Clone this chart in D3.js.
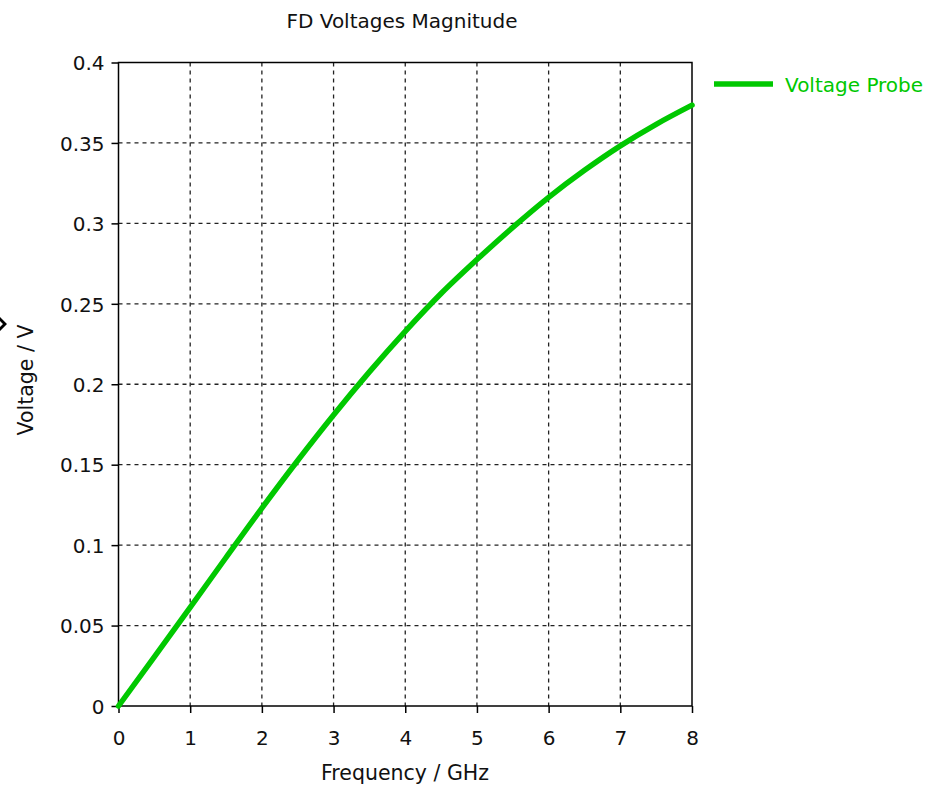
<!DOCTYPE html>
<html><head><meta charset="utf-8">
<script src="https://cdn.jsdelivr.net/npm/d3@7"></script>
<style>body{margin:0;background:#fff}svg{display:block}text{font-family:"DejaVu Sans",Verdana,sans-serif}</style>
</head><body><svg id="c" width="930" height="786"></svg>
<script>
const freq = [0, 0.5, 1, 1.5, 2, 2.5, 3, 3.5, 4, 4.5, 5, 5.5, 6, 6.5, 7, 7.5, 8];
const voltage = [0, 0.0305, 0.0613, 0.0923, 0.1230, 0.1526, 0.1809, 0.2077, 0.2329, 0.2564, 0.2775, 0.2975, 0.3162, 0.3330, 0.3482, 0.3616, 0.3735];
const xTicks = [0,1,2,3,4,5,6,7,8];
const yTicks = [0,0.05,0.1,0.15,0.2,0.25,0.3,0.35,0.4];
const yTickLabels = ["0","0.05","0.1","0.15","0.2","0.25","0.3","0.35","0.4"];
const seriesName = "Voltage Probe";

const svg = d3.select("#c");
const L=118.5, R=692, T=62.5, B=706;
const x = d3.scaleLinear().domain([0,8]).range([L,R]);
const y = d3.scaleLinear().domain([0,0.4]).range([B,T]);
const green = "#00c800";

// grid
svg.append("g").selectAll("line").data(xTicks.slice(1,-1)).join("line")
  .attr("x1",d=>x(d)).attr("x2",d=>x(d)).attr("y1",T).attr("y2",B)
  .attr("stroke","#222").attr("stroke-width",1.3).attr("stroke-dasharray","4,4");
svg.append("g").selectAll("line").data(yTicks.slice(1,-1)).join("line")
  .attr("x1",L).attr("x2",R).attr("y1",d=>y(d)).attr("y2",d=>y(d))
  .attr("stroke","#222").attr("stroke-width",1.3).attr("stroke-dasharray","4,4");

// axes
const xa = svg.append("g").attr("transform",`translate(0,${B})`)
  .call(d3.axisBottom(x).tickValues(xTicks).tickSize(7).tickPadding(0).tickFormat(d3.format("d")));
const ya = svg.append("g").attr("transform",`translate(${L},0)`)
  .call(d3.axisLeft(y).tickValues(yTicks).tickSize(7).tickPadding(7).tickFormat((d,i)=>yTickLabels[i]));
[xa,ya].forEach(a=>{a.select(".domain").remove();a.selectAll("line").attr("stroke","#000").attr("stroke-width",1.5);
  a.selectAll("text").attr("font-size",20).attr("fill","#111").attr("font-family","DejaVu Sans");});
xa.selectAll("text").attr("y",39).attr("dy",null);
ya.selectAll("text").attr("x",-14).attr("dy","0.36em");

// frame
svg.append("rect").attr("x",L).attr("y",T).attr("width",R-L).attr("height",B-T)
  .attr("fill","none").attr("stroke","#000").attr("stroke-width",1.5);

// curve
svg.append("path").datum(freq.map((f,i)=>[f,voltage[i]]))
  .attr("d",d3.line().x(d=>x(d[0])).y(d=>y(d[1])).curve(d3.curveMonotoneX))
  .attr("fill","none").attr("stroke",green).attr("stroke-width",5.5).attr("stroke-linecap","round");

// title & labels
svg.append("text").attr("x",402).attr("y",28).attr("text-anchor","middle").attr("font-size",20).attr("fill","#111").text("FD Voltages Magnitude");
svg.append("text").attr("x",405).attr("y",780).attr("text-anchor","middle").attr("font-size",20.5).attr("fill","#111").text("Frequency / GHz");
svg.append("text").attr("transform","translate(33,380) rotate(-90)").attr("text-anchor","middle").attr("font-size",20.5).attr("fill","#111").text("Voltage / V");

// legend
svg.append("line").attr("x1",714).attr("x2",773).attr("y1",84).attr("y2",84).attr("stroke",green).attr("stroke-width",5.5);
svg.append("text").attr("x",785).attr("y",92).attr("font-size",20).attr("fill",green).text(seriesName);

// small artifact marker at left edge
svg.append("path").attr("d","M0,317 L7,324 L0,331 L0,327 L3,324 L0,321 Z").attr("fill","#000");
</script></body></html>
